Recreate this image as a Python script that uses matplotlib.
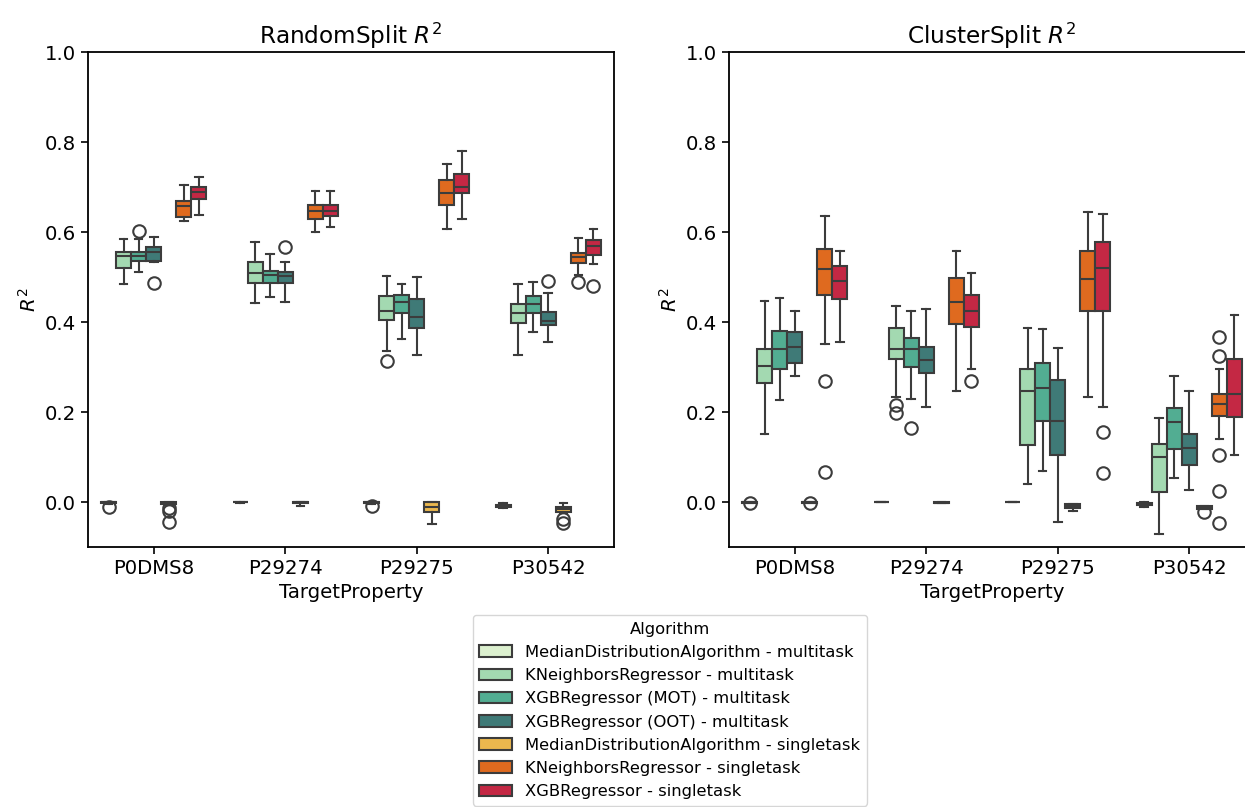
import numpy as np
import matplotlib.pyplot as plt
from matplotlib.patches import Patch

targets = ['P0DMS8', 'P29274', 'P29275', 'P30542']
algorithms = [
    'MedianDistributionAlgorithm - multitask',
    'KNeighborsRegressor - multitask',
    'XGBRegressor (MOT) - multitask',
    'XGBRegressor (OOT) - multitask',
    'MedianDistributionAlgorithm - singletask',
    'KNeighborsRegressor - singletask',
    'XGBRegressor - singletask',
]
colors = ['#dcf0cf', '#a3d9b1', '#52ad92', '#3f7a77', '#ebb84e', '#df6a1f', '#c42844']

# --- RandomSplit box stats (rows = algorithm, cols = target) ---
rs_lo = [[-0.004, -0.002, -0.004, -0.014],
         [0.484, 0.443, 0.336, 0.327],
         [0.512, 0.456, 0.362, 0.377],
         [0.534, 0.445, 0.327, 0.356],
         [-0.006, -0.009, -0.049, -0.024],
         [0.625, 0.600, 0.606, 0.505],
         [0.638, 0.612, 0.628, 0.529]]
rs_q1 = [[-0.003, -0.001, -0.003, -0.011],
         [0.519, 0.486, 0.404, 0.397],
         [0.536, 0.487, 0.421, 0.421],
         [0.536, 0.486, 0.387, 0.393],
         [-0.005, -0.003, -0.023, -0.022],
         [0.634, 0.630, 0.659, 0.532],
         [0.674, 0.636, 0.687, 0.549]]
rs_med = [[-0.001, 0.0, -0.001, -0.008],
          [0.547, 0.510, 0.425, 0.419],
          [0.547, 0.504, 0.445, 0.441],
          [0.556, 0.503, 0.412, 0.403],
          [-0.003, -0.001, -0.011, -0.016],
          [0.658, 0.647, 0.686, 0.544],
          [0.690, 0.647, 0.701, 0.569]]
rs_q3 = [[0.0, 0.0, 0.0, -0.006],
         [0.556, 0.533, 0.458, 0.441],
         [0.556, 0.514, 0.460, 0.458],
         [0.567, 0.511, 0.451, 0.423],
         [-0.001, 0.0, 0.0, -0.011],
         [0.669, 0.659, 0.716, 0.554],
         [0.699, 0.659, 0.730, 0.582]]
rs_hi = [[0.0, 0.001, 0.0, -0.003],
         [0.584, 0.578, 0.502, 0.484],
         [0.584, 0.550, 0.484, 0.490],
         [0.590, 0.533, 0.500, 0.464],
         [0.0, 0.0, 0.0, -0.003],
         [0.704, 0.691, 0.751, 0.587],
         [0.722, 0.691, 0.781, 0.606]]
rs_fliers = [[[-0.010], [], [-0.009], []],
             [[], [], [0.313], []],
             [[0.603], [], [], []],
             [[0.486], [0.566], [], [0.491]],
             [[-0.013, -0.020, -0.045], [], [], [-0.038, -0.046]],
             [[], [], [], [0.490]],
             [[], [], [], [0.480]]]

# --- ClusterSplit box stats ---
cs_lo = [[-0.003, -0.001, -0.001, -0.010],
         [0.151, 0.233, 0.041, -0.071],
         [0.227, 0.229, 0.070, 0.054],
         [0.280, 0.212, -0.044, 0.027],
         [-0.003, -0.003, -0.019, -0.016],
         [0.351, 0.247, 0.234, 0.139],
         [0.355, 0.295, 0.212, 0.104]]
cs_q1 = [[-0.002, -0.001, -0.001, -0.007],
         [0.264, 0.317, 0.126, 0.022],
         [0.295, 0.301, 0.179, 0.117],
         [0.308, 0.286, 0.104, 0.082],
         [-0.002, -0.002, -0.013, -0.015],
         [0.459, 0.396, 0.425, 0.192],
         [0.452, 0.390, 0.425, 0.188]]
cs_med = [[-0.001, 0.0, 0.0, -0.005],
          [0.303, 0.340, 0.247, 0.101],
          [0.341, 0.340, 0.253, 0.177],
          [0.344, 0.316, 0.179, 0.119],
          [-0.001, -0.002, -0.009, -0.012],
          [0.518, 0.444, 0.496, 0.218],
          [0.491, 0.425, 0.519, 0.240]]
cs_q3 = [[0.0, 0.0, 0.0, -0.003],
         [0.341, 0.387, 0.295, 0.129],
         [0.380, 0.365, 0.308, 0.210],
         [0.377, 0.345, 0.271, 0.151],
         [0.0, -0.001, -0.005, -0.009],
         [0.562, 0.498, 0.558, 0.240],
         [0.524, 0.461, 0.578, 0.317]]
cs_hi = [[0.0, 0.0, 0.0, -0.001],
         [0.447, 0.436, 0.387, 0.186],
         [0.453, 0.424, 0.384, 0.281],
         [0.424, 0.430, 0.343, 0.247],
         [0.0, -0.001, -0.004, -0.008],
         [0.636, 0.558, 0.645, 0.296],
         [0.558, 0.508, 0.640, 0.416]]
cs_fliers = [[[-0.003], [], [], []],
             [[], [0.215, 0.197], [], []],
             [[], [0.164], [], []],
             [[], [], [], []],
             [[-0.003], [], [], [-0.022]],
             [[0.270, 0.067], [], [], [0.367, 0.324, 0.104, 0.024, -0.047]],
             [[], [0.269], [0.155, 0.064], []]]

LINE = '#3c3c3c'
LW = 1.5


def draw(ax, lo, q1, med, q3, hi, fliers, title):
    n = len(algorithms)
    w = 0.8 / n
    for i in range(n):
        stats = [dict(whislo=lo[i][j], q1=q1[i][j], med=med[i][j], q3=q3[i][j],
                      whishi=hi[i][j], fliers=fliers[i][j])
                 for j in range(len(targets))]
        pos = np.arange(len(targets)) - 0.4 + w * (i + 0.5)
        ax.bxp(stats, positions=pos, widths=w, patch_artist=True, manage_ticks=False,
               boxprops=dict(facecolor=colors[i], edgecolor=LINE, linewidth=LW),
               medianprops=dict(color=LINE, linewidth=LW),
               whiskerprops=dict(color=LINE, linewidth=LW),
               capprops=dict(color=LINE, linewidth=LW),
               flierprops=dict(marker='o', markerfacecolor='none', markeredgecolor=LINE,
                               markersize=9, markeredgewidth=LW))
    ax.set_xlim(-0.5, len(targets) - 0.5)
    ax.set_ylim(-0.1, 1.0)
    ax.set_xticks(range(len(targets)), targets)
    ax.set_yticks(np.arange(0, 1.01, 0.2))
    ax.tick_params(labelsize=14.2, width=1.2, length=5)
    for s in ax.spines.values():
        s.set_linewidth(1.3)
    ax.set_xlabel('TargetProperty', fontsize=14.2)
    ax.set_ylabel('$R^2$', fontsize=14.2)
    ax.set_title(title, fontsize=16.7)


fig = plt.figure(figsize=(12.45, 8.07), dpi=100)
ax1 = fig.add_axes([88 / 1245, 1 - 547 / 807, 526 / 1245, 495 / 807])
ax2 = fig.add_axes([729 / 1245, 1 - 547 / 807, 526 / 1245, 495 / 807])

draw(ax1, rs_lo, rs_q1, rs_med, rs_q3, rs_hi, rs_fliers, 'RandomSplit $R^2$')
draw(ax2, cs_lo, cs_q1, cs_med, cs_q3, cs_hi, cs_fliers, 'ClusterSplit $R^2$')

handles = [Patch(facecolor=c, edgecolor=LINE, linewidth=LW) for c in colors]
fig.legend(handles, algorithms, title='Algorithm', loc='upper center',
           bbox_to_anchor=(670 / 1245, 1 - 607 / 807), fontsize=11.8,
           title_fontsize=11.8, frameon=True)

fig.savefig('out.png', dpi=100)
